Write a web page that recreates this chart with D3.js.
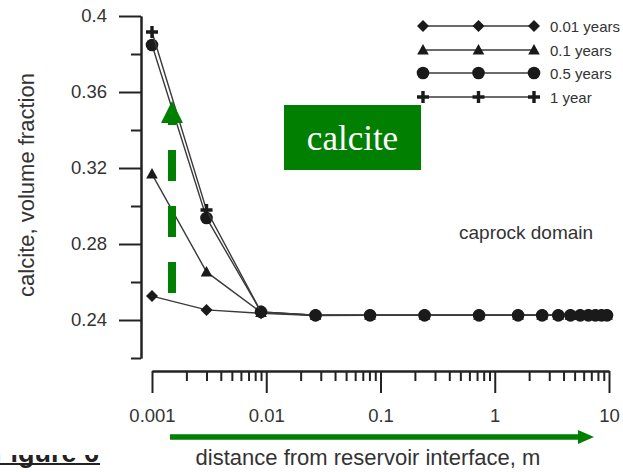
<!DOCTYPE html>
<html><head><meta charset="utf-8">
<script src="https://cdn.jsdelivr.net/npm/d3@7"></script>
<style>
html,body{margin:0;padding:0;background:#fff;}
svg{display:block;font-family:"Liberation Sans",Arial,sans-serif;}
</style></head>
<body>
<svg id="chart" width="623" height="472"></svg>
<script>
// ---- data ----
const distances = [0.001,0.003,0.009,0.027,0.081,0.243,0.729,1.6,2.6,3.6,4.6,5.6,6.6,7.6,8.6,9.6];
const seriesNames = ["0.01 years","0.1 years","0.5 years","1 year"];
const vals001 = [0.2526,0.2453,0.2435,0.2424,0.2425,0.2425,0.2425,0.2425,0.2425,0.2425,0.2425,0.2425,0.2425,0.2425,0.2425,0.2425];
const vals01  = [0.3168,0.2653,0.2440,0.2425,0.2425,0.2425,0.2425,0.2425,0.2425,0.2425,0.2425,0.2425,0.2425,0.2425,0.2425,0.2425];
const vals05  = [0.3847,0.2937,0.2443,0.2425,0.2425,0.2425,0.2425,0.2425,0.2425,0.2425,0.2425,0.2425,0.2425,0.2425,0.2425,0.2425];
const vals1   = [0.3916,0.2979,0.2443,0.2425,0.2425,0.2425,0.2425,0.2425,0.2425,0.2425,0.2425,0.2425,0.2425,0.2425,0.2425,0.2425];
const xMajorTicks = [0.001,0.01,0.1,1,10];
const xTickLabels = ["0.001","0.01","0.1","1","10"];
const yMajorTicks = [0.24,0.28,0.32,0.36,0.4];
const yTickLabels = ["0.24","0.28","0.32","0.36","0.4"];
const yMinorTicks = [0.22,0.26,0.30,0.34,0.38];

const svg = d3.select("#chart");
const ink = "#222";
const green = "#007f00";

const x = d3.scaleLog().domain([0.001,10]).range([152,609]);
const y = d3.scaleLinear().domain([0.22,0.4]).range([358,16]);

// ---- clipped "Figure 6" caption fragment ----
svg.append("clipPath").attr("id","figclip").append("rect")
  .attr("x",0).attr("y",455).attr("width",130).attr("height",17);
const fg = svg.append("g").attr("clip-path","url(#figclip)");
fg.append("text").attr("x",99).attr("y",462).attr("text-anchor","end")
  .attr("font-size",27).attr("font-weight","bold").attr("fill",ink).text("Figure 6");
fg.append("line").attr("x1",0).attr("x2",100).attr("y1",464).attr("y2",464)
  .attr("stroke",ink).attr("stroke-width",2);

// ---- axes ----
function styleAxis(g){
  g.selectAll("path.domain").attr("stroke",ink).attr("stroke-width",2);
  g.selectAll(".tick line").attr("stroke",ink).attr("stroke-width",2);
  g.selectAll(".tick text").attr("fill","#333").attr("font-size",18.5)
    .attr("font-family","Liberation Sans, Arial, sans-serif");
}
const xMinor = [];
[0.001,0.01,0.1,1].forEach(d=>{for(let k=2;k<=9;k++) xMinor.push(+(d*k).toPrecision(3));});

const gx = svg.append("g").attr("transform","translate(0,371)")
  .call(d3.axisBottom(x).tickValues(xMajorTicks).tickSize(22).tickSizeOuter(0).tickPadding(16)
    .tickFormat((d,i)=>xTickLabels[i]));
styleAxis(gx);
const gxm = svg.append("g").attr("transform","translate(0,371)")
  .call(d3.axisBottom(x).tickValues(xMinor).tickSize(10).tickSizeOuter(0).tickFormat(""));
styleAxis(gxm);

const gy = svg.append("g").attr("transform","translate(141,0)")
  .call(d3.axisLeft(y).tickValues(yMajorTicks).tickSize(22).tickSizeOuter(0).tickPadding(12)
    .tickFormat((d,i)=>yTickLabels[i]));
styleAxis(gy);
const gym = svg.append("g").attr("transform","translate(141,0)")
  .call(d3.axisLeft(y).tickValues(yMinorTicks).tickSize(10).tickSizeOuter(0).tickFormat(""));
styleAxis(gym);

// axis titles
svg.append("text").attr("transform","translate(34,185) rotate(-90)").attr("text-anchor","middle")
  .attr("font-size",22).attr("fill","#333").text("calcite, volume fraction");
svg.append("text").attr("x",368).attr("y",465).attr("text-anchor","middle")
  .attr("font-size",22).attr("fill","#333").text("distance from reservoir interface, m");

// ---- markers ----
const markerPaths = {
  diamond: "M0,-6L6,0L0,6L-6,0Z",
  triangle: "M0,-6L5.8,4.5L-5.8,4.5Z",
};
function drawMarker(g, type, cx, cy){
  if(type==="circle"){
    g.append("circle").attr("cx",cx).attr("cy",cy).attr("r",6.3).attr("fill","#1a1a1a");
  } else if(type==="plus"){
    g.append("path").attr("d",`M${cx-6},${cy}H${cx+6}M${cx},${cy-6}V${cy+6}`)
      .attr("stroke","#1a1a1a").attr("stroke-width",3.4).attr("fill","none");
  } else {
    g.append("path").attr("d",markerPaths[type]).attr("transform",`translate(${cx},${cy})`).attr("fill","#1a1a1a");
  }
}

const seriesData = [vals001, vals01, vals05, vals1];
const markerTypes = ["diamond","triangle","circle","plus"];
const line = d3.line().x(d=>x(d[0])).y(d=>y(d[1]));

seriesData.forEach((vals,si)=>{
  const pts = distances.map((d,i)=>[d,vals[i]]);
  const g = svg.append("g");
  g.append("path").attr("d",line(pts)).attr("fill","none").attr("stroke","#3a3a3a").attr("stroke-width",1.4);
  pts.forEach(p=>drawMarker(g, markerTypes[si], x(p[0]), y(p[1])));
});

// ---- legend ----
const legendY = [26,50,73,97];
seriesNames.forEach((name,i)=>{
  const g = svg.append("g");
  const ly = legendY[i];
  g.append("line").attr("x1",423).attr("x2",534).attr("y1",ly).attr("y2",ly)
    .attr("stroke","#3a3a3a").attr("stroke-width",1.4);
  [423,478.5,534].forEach(mx=>drawMarker(g, markerTypes[i], mx, ly));
  g.append("text").attr("x",550).attr("y",ly+5.5).attr("font-size",15).attr("fill","#333").text(name);
});

// ---- annotations ----
svg.append("text").attr("x",459).attr("y",239).attr("font-size",19).attr("fill","#333").text("caprock domain");

svg.append("rect").attr("x",284).attr("y",105).attr("width",137).attr("height",65).attr("fill",green);
svg.append("text").attr("x",352.5).attr("y",150).attr("text-anchor","middle")
  .attr("font-family","Liberation Serif, Times New Roman, serif").attr("font-size",35)
  .attr("fill","#fff").text("calcite");

// dashed vertical arrow
svg.append("line").attr("x1",172).attr("x2",172).attr("y1",293).attr("y2",120)
  .attr("stroke",green).attr("stroke-width",8).attr("stroke-dasharray","31,25");
svg.append("path").attr("d","M172,101L183,123L161,123Z").attr("fill",green);

// bottom horizontal arrow
svg.append("line").attr("x1",170).attr("x2",580).attr("y1",437).attr("y2",437)
  .attr("stroke",green).attr("stroke-width",5.5);
svg.append("path").attr("d","M594,437L578,430L578,444Z").attr("fill",green);
</script>
</body></html>
